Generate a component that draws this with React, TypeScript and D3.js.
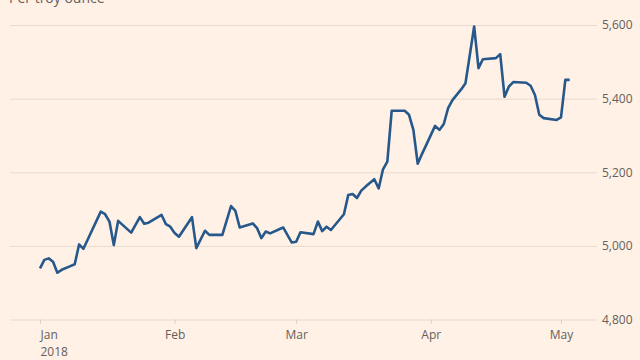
import React, { useEffect, useRef } from "react";
import * as d3 from "d3";

const dates: string[] = [
  "2018-01-01","2018-01-02","2018-01-03","2018-01-04","2018-01-05","2018-01-06","2018-01-08","2018-01-09",
  "2018-01-10","2018-01-11","2018-01-15","2018-01-16","2018-01-17","2018-01-18","2018-01-19","2018-01-22",
  "2018-01-24","2018-01-25","2018-01-26","2018-01-29","2018-01-30","2018-01-31","2018-02-01","2018-02-02",
  "2018-02-05","2018-02-06","2018-02-08","2018-02-09","2018-02-12","2018-02-14","2018-02-15","2018-02-16",
  "2018-02-19","2018-02-20","2018-02-21","2018-02-22","2018-02-23","2018-02-26","2018-02-28","2018-03-01",
  "2018-03-02","2018-03-05","2018-03-06","2018-03-07","2018-03-08","2018-03-09","2018-03-12","2018-03-13",
  "2018-03-14","2018-03-15","2018-03-16","2018-03-17","2018-03-19","2018-03-20","2018-03-21","2018-03-22",
  "2018-03-23","2018-03-26","2018-03-27","2018-03-28","2018-03-29","2018-03-30","2018-04-02","2018-04-03",
  "2018-04-04","2018-04-05","2018-04-06","2018-04-08","2018-04-09","2018-04-11","2018-04-12","2018-04-13",
  "2018-04-16","2018-04-17","2018-04-18","2018-04-19","2018-04-20","2018-04-23","2018-04-24","2018-04-25",
  "2018-04-26","2018-04-27","2018-04-30","2018-05-01","2018-05-02","2018-05-03",
];

const prices: number[] = [
  4939, 4962, 4966, 4957, 4927, 4935, 4945, 4950,
  5004, 4992, 5093, 5086, 5066, 5002, 5068, 5036,
  5078, 5060, 5063, 5084, 5059, 5052, 5035, 5025,
  5078, 4994, 5041, 5030, 5030, 5108, 5095, 5050,
  5061, 5048, 5021, 5039, 5034, 5050, 5009, 5011,
  5037, 5032, 5066, 5040, 5052, 5043, 5086, 5138,
  5141, 5130, 5150, 5161, 5181, 5156, 5208, 5229,
  5367, 5367, 5356, 5315, 5223, 5250, 5326, 5315,
  5331, 5374, 5396, 5425, 5442, 5596, 5483, 5507,
  5510, 5521, 5405, 5433, 5445, 5443, 5435, 5410,
  5356, 5347, 5342, 5349, 5451, 5451,
];

const yTicks: number[] = [4800, 5000, 5200, 5400, 5600];
const xTickDates: string[] = ["2018-01-01", "2018-02-01", "2018-03-01", "2018-04-01", "2018-05-01"];
const xTickLabels: string[] = ["Jan", "Feb", "Mar", "Apr", "May"];
const yearLabel = "2018";
const subtitle = "Per troy ounce";

const W = 640;
const H = 360;
const FONT = "'Open Sans', sans-serif";
const TEXT = "#66605c";
const GRID = "#e8dbce";

export default function App() {
  const ref = useRef<SVGSVGElement | null>(null);

  useEffect(() => {
    const svg = d3.select(ref.current);
    svg.selectAll("*").remove();
    const parse = d3.utcParse("%Y-%m-%d");
    const data = dates.map((d, i) => ({ date: parse(d) as Date, value: prices[i] }));

    const x = d3.scaleUtc()
      .domain([parse("2018-01-01") as Date, parse("2018-05-01") as Date])
      .range([40, 561]);
    const y = d3.scaleLinear().domain([4800, 5600]).range([319.5, 25]);

    svg.append("rect").attr("width", W).attr("height", H).attr("fill", "#fff1e5");

    // gridlines + right axis
    const yAxis = d3.axisRight(y)
      .tickValues(yTicks)
      .tickSize(587)
      .tickPadding(5)
      .tickFormat((d) => d3.format(",")(d as number));
    const gy = svg.append("g").attr("transform", "translate(10,0)").call(yAxis);
    gy.select(".domain").remove();
    gy.selectAll(".tick line").attr("stroke", GRID).attr("stroke-width", 1);
    gy.selectAll(".tick text")
      .attr("fill", TEXT)
      .attr("font-family", FONT)
      .attr("font-size", 12)
      .attr("dy", "0.32em");

    // x axis
    const tickDates = xTickDates.map((d) => parse(d) as Date);
    const xAxis = d3.axisBottom(x)
      .tickValues(tickDates)
      .tickSize(4)
      .tickPadding(7)
      .tickFormat((_, i) => xTickLabels[i]);
    const gx = svg.append("g").attr("transform", `translate(0,${y(4800)})`).call(xAxis);
    gx.select(".domain").remove();
    gx.selectAll(".tick line").attr("stroke", "#d8ccc0");
    gx.selectAll(".tick text")
      .attr("fill", TEXT)
      .attr("font-family", FONT)
      .attr("font-size", 12)
      .attr("text-anchor", (_, i) => (i === 0 ? "start" : "middle"));
    gx.select(".tick text")
      .append("tspan")
      .attr("x", 0)
      .attr("dy", "1.4em")
      .text(yearLabel);

    // subtitle
    svg.append("text")
      .attr("x", 9)
      .attr("y", 3)
      .attr("fill", TEXT)
      .attr("font-family", FONT)
      .attr("font-size", 14)
      .text(subtitle);

    const line = d3.line<{ date: Date; value: number }>()
      .x((d) => x(d.date))
      .y((d) => y(d.value));
    svg.append("path")
      .datum(data)
      .attr("d", line)
      .attr("fill", "none")
      .attr("stroke", "#26588c")
      .attr("stroke-width", 2.6)
      .attr("stroke-linejoin", "round")
      .attr("stroke-linecap", "butt");
  }, []);

  return (
    <svg
      ref={ref}
      width={W}
      height={H}
      style={{ position: "absolute", left: 0, top: 0, display: "block" }}
    />
  );
}
